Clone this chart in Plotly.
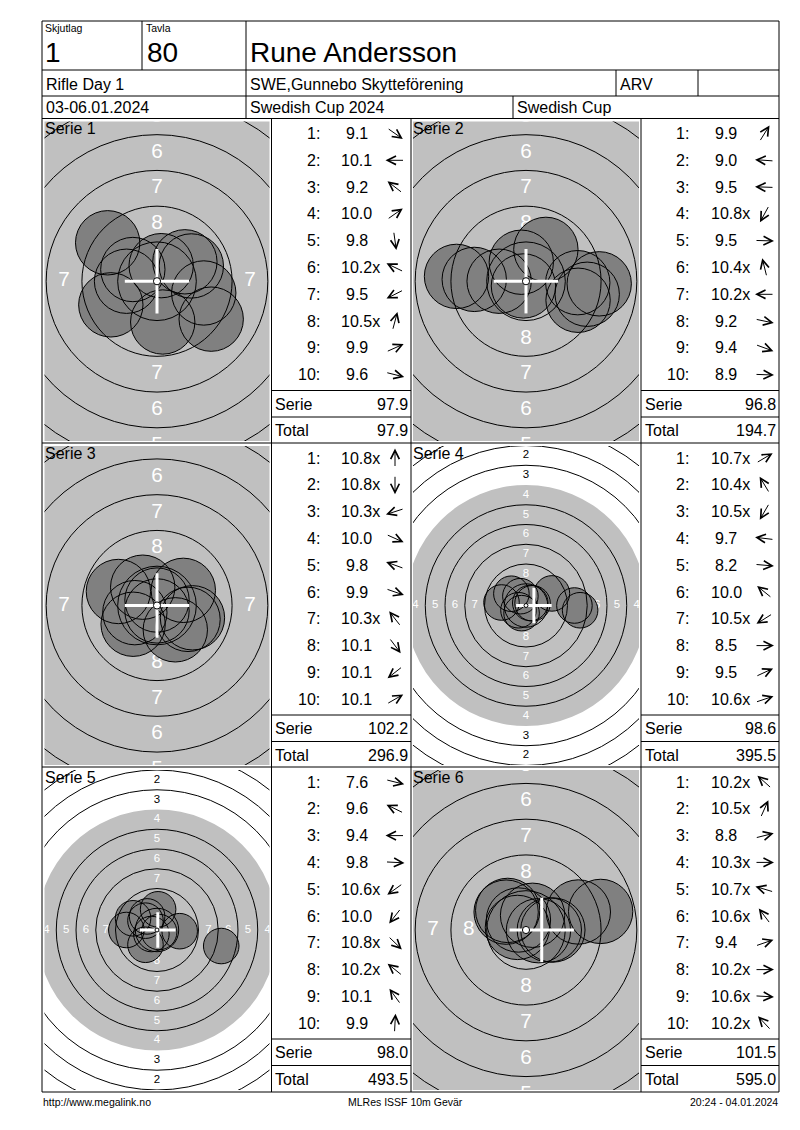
import math
import plotly.graph_objects as go

# ---------------- data read from the score card ----------------
shooter = "Rune Andersson"
relay = "1"
lane = "80"
event = "Rifle Day 1"
club = "SWE,Gunnebo Skytteförening"
shooter_class = "ARV"
dates = "03-06.01.2024"
competition = "Swedish Cup 2024"
cup = "Swedish Cup"
footer_left = "http://www.megalink.no"
footer_mid = "MLRes ISSF 10m Gevär"
footer_right = "20:24 - 04.01.2024"

series_names = ["Serie 1", "Serie 2", "Serie 3", "Serie 4", "Serie 5", "Serie 6"]

scores_1 = ["9.1", "10.1", "9.2", "10.0", "9.8", "10.2x", "9.5", "10.5x", "9.9", "9.6"]
scores_2 = ["9.9", "9.0", "9.5", "10.8x", "9.5", "10.4x", "10.2x", "9.2", "9.4", "8.9"]
scores_3 = ["10.8x", "10.8x", "10.3x", "10.0", "9.8", "9.9", "10.3x", "10.1", "10.1", "10.1"]
scores_4 = ["10.7x", "10.4x", "10.5x", "9.7", "8.2", "10.0", "10.5x", "8.5", "9.5", "10.6x"]
scores_5 = ["7.6", "9.6", "9.4", "9.8", "10.6x", "10.0", "10.8x", "10.2x", "10.1", "9.9"]
scores_6 = ["10.2x", "10.5x", "8.8", "10.3x", "10.7x", "10.6x", "9.4", "10.2x", "10.6x", "10.2x"]

# shot centres in mm from the target centre (x right, y up)
x_1 = [3.79, -2.13, -3.45, 1.95, 0.40, -1.69, -3.23, 0.29, 2.40, 3.27]
y_1 = [-2.65, 0.00, 2.69, 1.36, -2.85, 0.82, -1.65, 1.09, 1.07, -0.82]
x_2 = [1.39, -4.86, -3.62, -0.18, 3.62, -0.33, -1.88, 4.28, 3.64, 5.12]
y_2 = [2.23, 0.34, 0.13, -0.33, -0.10, 1.33, 0.00, -0.91, -1.33, -0.18]
x_3 = [0.00, 0.00, -1.55, 2.17, -2.70, 2.48, -1.00, 1.28, -1.67, 1.84]
y_3 = [0.38, -0.38, -0.50, -0.97, 0.98, -0.86, 1.28, -1.70, -1.31, 1.06]
x_4 = [0.54, -0.71, -0.56, -3.10, 6.85, -1.85, -0.95, 6.13, 3.28, 0.83]
y_4 = [0.32, 1.18, -0.97, 0.38, -0.60, 1.49, -0.60, 0.00, 1.53, 0.28]
x_5 = [8.13, -3.03, -3.88, 2.87, -0.71, -1.46, 0.27, -1.46, -1.25, 0.14]
y_5 = [-2.03, 1.48, 0.00, -0.15, -0.51, -1.87, -0.26, 1.18, 1.72, 2.62]
x_6 = [-1.39, 0.46, 5.22, 1.63, -0.60, -0.53, 3.66, 1.88, 0.87, -1.28]
y_6 = [1.25, 1.03, 1.30, 0.00, 0.18, 0.70, 1.26, 0.00, -0.05, 1.37]

# mean point of impact (white cross), mm
mpi_x = [0.0, 0.0, 0.0, 1.0, 0.1, 1.1]
mpi_y = [0.0, 0.0, 0.0, 0.0, 0.0, 0.0]

all_scores = [scores_1, scores_2, scores_3, scores_4, scores_5, scores_6]
all_x = [x_1, x_2, x_3, x_4, x_5, x_6]
all_y = [y_1, y_2, y_3, y_4, y_5, y_6]

# ---------------- page geometry / style ----------------
W, H = 800, 1130
FONT = "Liberation Sans, Arial, sans-serif"
PX_PER_MM = [14.3, 14.3, 14.3, 7.9, 7.9, 14.3]
GREY = "#c0c0c0"
SHOT = "#808080"
PELLET_R = 2.25

ROW_TOP = [118.5, 443, 767]
ROW_BOT = [443, 767, 1092]
TGT_COL = [(44.5, 269.5), (413, 639)]
LIST_COL = [(271.5, 411), (641, 779)]


def px(x):
    return x / W


def py(y):
    return 1 - y / H


fig = go.Figure()
shapes = []


def hline(x0, x1, y):
    shapes.append(dict(type="line", xref="paper", yref="paper", x0=px(x0), x1=px(x1),
                       y0=py(y), y1=py(y), line=dict(color="black", width=1), layer="above"))


def vline(x, y0, y1):
    shapes.append(dict(type="line", xref="paper", yref="paper", x0=px(x), x1=px(x),
                       y0=py(y0), y1=py(y1), line=dict(color="black", width=1), layer="above"))


def txt(x, y, s, size=16, anchor="left"):
    fig.add_annotation(x=px(x), y=py(y), xref="paper", yref="paper", text=s, showarrow=False,
                       xanchor=anchor, yanchor="middle", borderpad=0,
                       font=dict(family=FONT, size=size, color="black"))


def circle(n, cx, cy, r, **kw):
    d = dict(type="circle", xref="x" + n, yref="y" + n,
             x0=cx - r, x1=cx + r, y0=cy - r, y1=cy + r)
    d.update(kw)
    shapes.append(d)


# ---------------- header ----------------
for y in (21, 70, 96, 118.5):
    hline(42, 779, y)
vline(142, 21, 70)
vline(246, 21, 118.5)
vline(616, 70, 96)
vline(698, 70, 96)
vline(513, 96, 118.5)
vline(42, 21, 1092)
vline(779, 21, 1092)

txt(44, 28, "Skjutlag", 10.5)
txt(145, 28, "Tavla", 10.5)
txt(44, 52, relay, 28)
txt(146, 52, lane, 28)
txt(249, 52, shooter, 28)
txt(45, 84, event)
txt(249, 84, club)
txt(619, 84, shooter_class)
txt(45, 108, dates)
txt(249, 108, competition)
txt(516, 108, cup)

# ---------------- panels ----------------
for y in (443, 767, 1092):
    hline(42, 779, y)
for x in (271.5, 411, 641):
    vline(x, 118.5, 1092)

total = 0.0
layout_axes = {}
for i in range(6):
    r, c = divmod(i, 2)
    n = "" if i == 0 else str(i + 1)
    s = PX_PER_MM[i]
    tx0, tx1 = TGT_COL[c]
    ty0, ty1 = ROW_TOP[r] + 3, ROW_BOT[r] - 2
    hw = (tx1 - tx0) / 2 / s
    hh = (ty1 - ty0) / 2 / s
    layout_axes["xaxis" + n] = dict(domain=[px(tx0), px(tx1)], range=[-hw, hw], visible=False,
                                    anchor="y" + n, fixedrange=True)
    layout_axes["yaxis" + n] = dict(domain=[py(ty1), py(ty0)], range=[-hh, hh], visible=False,
                                    anchor="x" + n, fixedrange=True)

    xs, ys, sc = all_x[i], all_y[i], all_scores[i]

    # black area of the target (rings 4-10)
    circle(n, 0, 0, 15.25, fillcolor=GREY, line=dict(width=0), layer="below")

    # ring numbers (only those that reach into the panel)
    fs = 1.45 * s
    lx, ly, lt, lc = [], [], [], []
    for k in range(1, 9):
        rr = (10 - k) * 2.5 - 1.0
        for dx, dy in ((0, 1), (0, -1), (-1, 0), (1, 0)):
            lim = hh if dy else hw
            if rr - 0.45 * fs / s > lim:
                continue
            lx.append(dx * rr)
            ly.append(dy * rr)
            lt.append(str(k))
            lc.append("white" if k >= 4 else "black")
    fig.add_trace(go.Scatter(x=lx, y=ly, mode="text", text=lt, textposition="middle center",
                             textfont=dict(family=FONT, size=fs, color=lc),
                             hoverinfo="skip", showlegend=False, xaxis="x" + n, yaxis="y" + n))

    # shots: fills, then ring lines, then outlines
    for sx, sy in zip(xs, ys):
        circle(n, sx, sy, PELLET_R, fillcolor=SHOT, line=dict(width=0), layer="above")
    for k in range(1, 10):
        if k == 4:
            continue
        circle(n, 0, 0, (10 - k) * 2.5 + 0.25, line=dict(color="black", width=1), layer="above")
    for sx, sy in zip(xs, ys):
        circle(n, sx, sy, PELLET_R, line=dict(color="black", width=1), layer="above")

    # mean point of impact cross and centre dot
    mx, my = mpi_x[i], mpi_y[i]
    shapes.append(dict(type="line", xref="x" + n, yref="y" + n, x0=mx - PELLET_R, x1=mx + PELLET_R,
                       y0=my, y1=my, line=dict(color="white", width=3), layer="above"))
    shapes.append(dict(type="line", xref="x" + n, yref="y" + n, x0=mx, x1=mx,
                       y0=my - PELLET_R, y1=my + PELLET_R, line=dict(color="white", width=3), layer="above"))
    circle(n, 0, 0, 0.25, fillcolor="white", line=dict(color="black", width=1), layer="above")

    txt(tx0 - 1, ROW_TOP[r] + 10.5, series_names[i])

    # score list
    lx0, lx1 = LIST_COL[c]
    top = ROW_TOP[r]
    hline(lx0, lx1, top + 272)
    hline(lx0, lx1, top + 298.5)
    for j in range(10):
        yy = top + 15 + j * 26.8
        txt(lx0 + 49, yy, f"{j + 1}:", anchor="right")
        num = sc[j].rstrip("x")
        w = 22.2 if len(num) == 3 else 31.1
        txt(lx0 + 84.5 - w / 2, yy, sc[j])
        ang = math.atan2(ys[j], xs[j])
        L = 19
        cx = lx0 + 123.5
        hx = cx + L / 2 * math.cos(ang)
        hy = yy - L / 2 * math.sin(ang)
        fig.add_annotation(x=px(hx), y=py(hy), xref="paper", yref="paper", text="",
                           showarrow=True, ax=-L * math.cos(ang), ay=L * math.sin(ang),
                           arrowhead=5, arrowsize=1.7, arrowwidth=1, arrowcolor="black")
    serie_sum = round(sum(float(v.rstrip("x")) for v in sc), 1)
    total = round(total + serie_sum, 1)
    txt(lx0 + 2.5, top + 285.5, "Serie")
    txt(lx1 - 2.5, top + 285.5, f"{serie_sum:.1f}", anchor="right")
    txt(lx0 + 2.5, top + 312, "Total")
    txt(lx1 - 2.5, top + 312, f"{total:.1f}", anchor="right")

# ---------------- footer ----------------
txt(42, 1102, footer_left, 10.5)
txt(406, 1102, footer_mid, 10.5, anchor="center")
txt(779, 1102, footer_right, 10.5, anchor="right")

fig.update_layout(
    width=W, height=H,
    margin=dict(l=0, r=0, t=0, b=0),
    paper_bgcolor="white", plot_bgcolor="white",
    showlegend=False,
    shapes=shapes,
    **layout_axes,
)

fig.write_html("out.html", config={"displayModeBar": False},
               post_script="document.body.style.margin='0';")
